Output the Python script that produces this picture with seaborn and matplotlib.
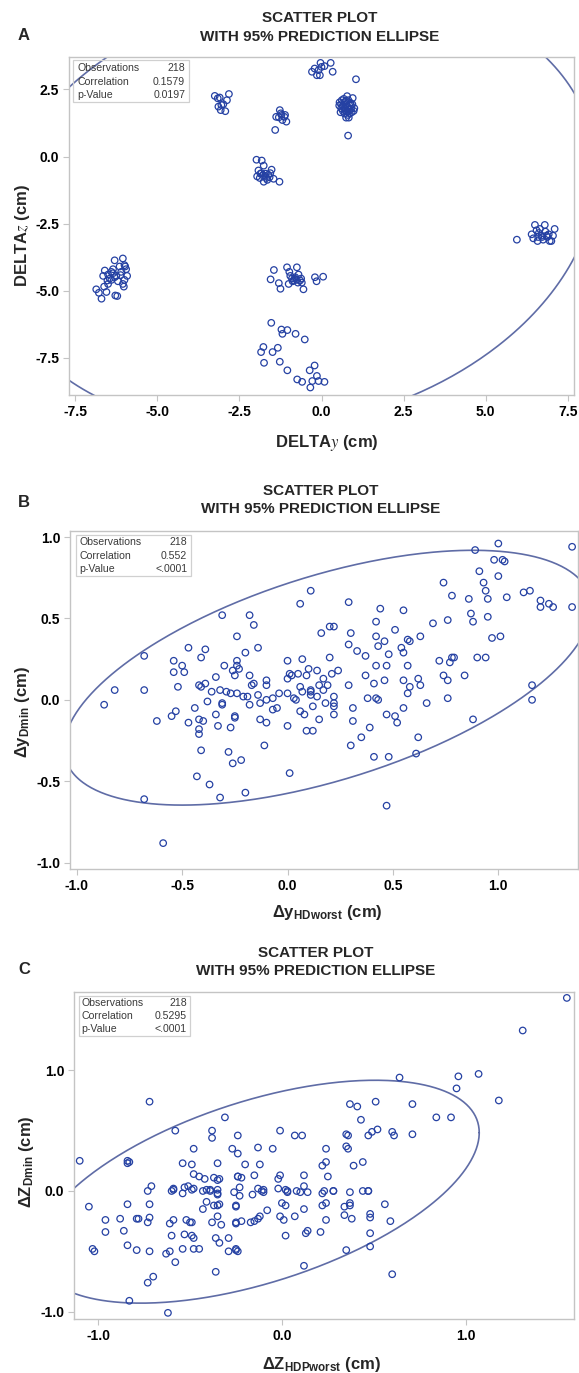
import numpy as np
import matplotlib.pyplot as plt
import matplotlib.patches as mpatches
import seaborn as sns

# Style
sns.set_theme(style="ticks")
plt.rcParams['font.family'] = ['Liberation Sans', 'DejaVu Sans']
plt.rcParams['mathtext.fontset'] = 'custom'
plt.rcParams['mathtext.rm'] = 'Liberation Sans'
plt.rcParams['mathtext.bf'] = 'Liberation Sans:bold'
plt.rcParams['mathtext.it'] = 'Liberation Sans:italic'

MARKER = '#2541a3'
ELLIPSE = '#5f6ca6'
SPINE = '#c4c4c4'

# ---------------- data ----------------
# Panel A: DELTA y vs DELTA z
a_x = [-0.29, -0.21, -0.09, 0.00, 0.09, -0.03, 0.28, 0.34, -0.14, -0.05, 1.05,
       -3.25, -3.16, -3.05, -3.07, -2.93, -2.82, -2.88, -3.14, -2.99, -3.10,
       -1.27, -1.22, -1.13, -1.07, -1.19, -1.38, -1.41, -1.30, -1.11, -1.24,
       0.55, 0.60, 0.62, 0.65, 0.68, 0.70, 0.72, 0.75, 0.78, 0.80, 0.82, 0.85,
       0.88, 0.90, 0.95, 1.00, 0.98, 0.92, 0.86, 0.80, 0.75, 0.70, 0.65, 0.58,
       0.60, 0.72, 0.78, 0.84, 0.90, 0.76, 0.66, 0.94, 0.83, 0.54, 0.81,
       -1.98, -1.82, -1.76, -1.92, -1.86, -1.78, -1.70, -1.52, -1.58, -1.46,
       -1.28, -1.96, -1.76, -1.65, -1.83, -1.72, -1.62, -1.88, -1.68, -1.56,
       -6.86, -6.78, -6.70, -6.62, -6.55, -6.50, -6.60, -6.50, -6.45, -6.40,
       -6.35, -6.30, -6.25, -6.20, -6.28, -6.22, -6.15, -6.10, -6.05, -6.00,
       -5.95, -5.92, -6.00, -6.05, -6.02, -6.40, -6.52, -6.35, -6.12, -5.98,
       -6.65, -6.30,
       -1.45, -1.55, -1.30, -1.25, -1.05, -0.98, -0.90, -0.85, -0.80, -0.75,
       -0.70, -0.65, -0.60, -0.55, -0.95, -0.88, -0.75, -0.82, -0.62, -0.20,
       -0.15, 0.05, -1.00, -0.72,
       -1.53, -1.22, -1.19, -1.04, -0.79, -0.51, -1.77, -1.84, -1.49, -1.33,
       -1.75, -1.27, -1.04, -0.36, -0.21, -0.74, -0.59, -0.34, -0.14, -0.09,
       0.09, -0.28,
       5.95, 6.40, 6.45, 6.50, 6.55, 6.58, 6.62, 6.65, 6.70, 6.75, 6.80, 6.82,
       6.88, 6.92, 6.95, 7.00, 7.05, 7.10, 6.72, 6.60, 6.85]
a_y = [3.16, 3.28, 3.22, 3.34, 3.37, 3.49, 3.49, 3.16, 3.03, 3.03, 2.88,
       2.26, 2.17, 1.92, 1.73, 1.69, 2.33, 2.10, 1.86, 1.95, 2.20,
       1.73, 1.55, 1.48, 1.30, 1.36, 1.48, 0.99, 1.46, 1.55, 1.61,
       2.02, 1.95, 2.10, 1.90, 2.15, 1.80, 2.05, 1.95, 2.25, 1.85, 2.10, 1.75,
       2.00, 1.90, 2.18, 1.80, 1.70, 1.65, 1.60, 1.55, 1.45, 1.60, 1.70, 1.65,
       1.80, 1.72, 1.68, 1.92, 1.78, 2.08, 1.86, 1.95, 1.45, 1.90, 0.78,
       -0.12, -0.15, -0.34, -0.52, -0.64, -0.70, -0.64, -0.49, -0.77, -0.83,
       -0.94, -0.74, -0.94, -0.87, -0.62, -0.72, -0.68, -0.80, -0.80, -0.62,
       -4.95, -5.08, -5.30, -4.85, -5.05, -4.75, -4.25, -4.40, -4.55, -4.30,
       -4.20, -3.87, -4.45, -4.65, -5.18, -5.20, -4.10, -4.30, -3.80, -4.05,
       -4.20, -4.45, -4.60, -4.75, -4.85, -4.60, -4.62, -4.35, -4.42, -4.10,
       -4.45, -4.50,
       -4.23, -4.58, -4.72, -4.93, -4.13, -4.30, -4.55, -4.62, -4.50, -4.13,
       -4.40, -4.62, -4.70, -4.95, -4.45, -4.65, -4.60, -4.55, -4.55, -4.50,
       -4.65, -4.48, -4.75, -4.70,
       -6.20, -6.45, -6.61, -6.47, -6.61, -6.82, -7.10, -7.29, -7.29, -7.13,
       -7.69, -7.65, -7.97, -7.97, -7.79, -8.31, -8.40, -8.61, -8.18, -8.37,
       -8.40, -8.37,
       -3.10, -2.90, -3.05, -2.55, -2.75, -3.15, -2.85, -2.70, -2.95, -3.10,
       -2.55, -2.80, -3.00, -2.90, -3.15, -3.15, -2.95, -2.70, -3.00, -3.00,
       -2.95]

# Panel B: dy HDworst vs dy Dmin
b_x = [-0.87, -0.82, -0.68, -0.68, -0.68, -0.62, -0.59, -0.55, -0.54, -0.54,
       -0.53, -0.52, -0.50, -0.49, -0.47, -0.47, -0.44, -0.43, -0.42, -0.42,
       -0.41, -0.42, -0.42, -0.41, -0.41, -0.40, -0.39, -0.39, -0.38, -0.37,
       -0.36, -0.34, -0.34, -0.33, -0.32, -0.32, -0.31, -0.31, -0.31, -0.30,
       -0.29, -0.28, -0.27, -0.27, -0.26, -0.26, -0.25, -0.25, -0.25, -0.24,
       -0.24, -0.24, -0.24, -0.23, -0.21, -0.22, -0.20, -0.20, -0.19, -0.18,
       -0.18, -0.18, -0.17, -0.16, -0.16, -0.14, -0.14, -0.13, -0.13, -0.11,
       -0.10, -0.10, -0.10, -0.10, -0.07, -0.07, -0.05, -0.04, 0.00, 0.00,
       0.00, 0.00, 0.01, 0.01, 0.02, 0.03, 0.04, 0.05, 0.06, 0.06,
       0.07, 0.07, 0.08, 0.09, 0.09, 0.10, 0.11, 0.11, 0.11, 0.12,
       0.12, 0.11, 0.06, 0.14, 0.14, 0.15, 0.15, 0.16, 0.17, 0.17,
       0.18, 0.19, 0.20, 0.20, 0.21, 0.22, 0.22, 0.22, 0.22, 0.22,
       0.24, 0.29, 0.29, 0.29, 0.30, 0.30, 0.31, 0.31, 0.33, 0.35,
       0.37, 0.37, 0.38, 0.39, 0.41, 0.41, 0.42, 0.42, 0.42, 0.42,
       0.43, 0.43, 0.44, 0.46, 0.46, 0.47, 0.47, 0.48, 0.48, 0.51,
       0.51, 0.52, 0.54, 0.55, 0.55, 0.55, 0.55, 0.57, 0.57, 0.57,
       0.58, 0.58, 0.61, 0.62, 0.62, 0.63, 0.63, 0.66, 0.47, 0.69,
       0.72, 0.74, 0.74, 0.76, 0.76, 0.76, 0.77, 0.78, 0.78, 0.79,
       0.84, 0.86, 0.87, 0.88, 0.88, 0.89, 0.90, 0.91, 0.93, 0.94,
       0.94, 0.95, 0.95, 0.97, 0.98, 1.00, 1.00, 1.01, 1.02, 1.03,
       1.04, 1.12, 1.15, 1.16, 1.16, 1.20, 1.20, 1.24, 1.26, 1.35, 1.35]
b_y = [-0.03, 0.06, 0.27, 0.06, -0.61, -0.13, -0.88, -0.10, 0.24, 0.17,
       -0.07, 0.08, 0.21, 0.17, 0.32, -0.14, -0.05, -0.47, -0.12, 0.09,
       0.08, -0.18, -0.21, 0.26, -0.31, -0.13, 0.31, 0.10, -0.01, -0.52,
       0.05, 0.14, -0.09, -0.16, -0.60, 0.06, -0.03, -0.02, 0.52, 0.21,
       0.05, -0.32, -0.17, 0.04, 0.18, -0.39, 0.15, -0.10, -0.11, 0.39,
       0.24, 0.21, 0.04, 0.19, 0.02, -0.37, -0.57, 0.29, 0.02, 0.52,
       -0.03, 0.15, 0.09, 0.10, 0.46, 0.32, 0.03, -0.02, -0.12, -0.28,
       0.12, 0.09, -0.14, 0.00, 0.01, -0.06, -0.05, 0.04, 0.24, 0.04,
       -0.16, 0.13, -0.45, 0.16, 0.15, 0.01, 0.00, 0.16, 0.08, -0.07,
       0.05, 0.25, -0.09, -0.19, 0.15, 0.19, 0.05, 0.06, 0.03, -0.19,
       -0.04, 0.67, 0.59, 0.18, 0.02, -0.12, 0.09, 0.41, 0.06, 0.13,
       -0.02, 0.09, 0.26, 0.45, 0.16, 0.45, 0.02, -0.02, -0.04, -0.09,
       0.18, 0.60, 0.34, 0.09, 0.41, -0.28, -0.05, -0.13, 0.30, -0.23,
       0.27, 0.15, 0.01, -0.17, 0.10, -0.35, 0.21, 0.39, 0.48, 0.01,
       0.33, 0.00, 0.56, 0.36, 0.12, 0.21, -0.09, 0.28, -0.35, 0.43,
       -0.10, -0.14, 0.32, 0.29, 0.55, 0.12, -0.05, 0.21, 0.04, 0.37,
       0.36, 0.08, -0.33, -0.23, 0.13, 0.39, 0.09, -0.02, -0.65, 0.47,
       0.24, 0.72, 0.15, 0.49, 0.12, 0.01, 0.23, 0.26, 0.64, 0.26,
       0.15, 0.62, 0.53, 0.48, -0.12, 0.92, 0.26, 0.79, 0.72, 0.67,
       0.26, 0.51, 0.62, 0.38, 0.86, 0.76, 0.96, 0.39, 0.86, 0.85,
       0.63, 0.66, 0.67, 0.09, 0.00, 0.61, 0.57, 0.59, 0.57, 0.94, 0.57]

# Panel C: dZ HDPworst vs dZ Dmin (last row: stacked duplicates)
c_x = [-1.10, -1.05, -1.03, -1.02, -0.96, -0.96, -0.88, -0.86, -0.84, -0.84,
       -0.84, -0.83, -0.84, -0.83, -0.79, -0.79, -0.78, -0.73, -0.73, -0.73,
       -0.72, -0.72, -0.72, -0.72, -0.71, -0.70, -0.63, -0.61, -0.61, -0.60,
       -0.60, -0.59, -0.59, -0.58, -0.58, -0.62, -0.54, -0.54, -0.54, -0.53,
       -0.53, -0.52, -0.51, -0.50, -0.49, -0.49, -0.49, -0.48, -0.48, -0.48,
       -0.48, -0.48, -0.45, -0.45, -0.43, -0.43, -0.42, -0.41, -0.41, -0.39,
       -0.38, -0.38, -0.38, -0.37, -0.37, -0.36, -0.36, -0.35, -0.35, -0.35,
       -0.35, -0.34, -0.34, -0.34, -0.33, -0.31, -0.29, -0.29, -0.27, -0.26,
       -0.25, -0.25, -0.25, -0.24, -0.24, -0.24, -0.24, -0.23, -0.23, -0.22,
       -0.22, -0.20, -0.17, -0.16, -0.15, -0.15, -0.13, -0.13, -0.12, -0.12,
       -0.11, -0.10, -0.08, -0.05, -0.02, -0.02, -0.01, -0.01, -0.01, 0.00,
       0.01, 0.02, 0.02, 0.03, 0.07, 0.07, 0.08, 0.10, 0.11, 0.12,
       0.12, 0.12, 0.13, 0.14, 0.14, 0.12, 0.21, 0.22, 0.23, 0.24,
       0.24, 0.24, 0.24, 0.25, 0.28, 0.34, 0.34, 0.35, 0.35, 0.35,
       0.36, 0.36, 0.37, 0.37, 0.37, 0.38, 0.39, 0.41, 0.43, 0.44,
       0.44, 0.47, 0.47, 0.48, 0.48, 0.48, 0.48, 0.49, 0.51, 0.52,
       0.56, 0.59, 0.60, 0.60, 0.61, 0.64, 0.71, 0.71, 0.84, 0.92,
       0.95, 0.96, 1.07, 1.18, 1.31, 1.55,
       -0.35, -0.35, -0.35, -0.59, -0.49, -0.24, -0.25, -0.25, 0.03, 0.02,
       0.22, 0.22, 0.28, 0.47, 0.37, -0.25, -0.10, -0.39, -0.13]
c_y = [0.25, -0.13, -0.48, -0.50, -0.24, -0.34, -0.23, -0.33, -0.11, 0.25,
       0.23, 0.24, -0.45, -0.91, -0.49, -0.23, -0.23, -0.76, -0.26, 0.00,
       0.74, -0.11, -0.22, -0.50, 0.04, -0.71, -0.52, -0.27, -0.50, 0.00,
       -0.37, 0.02, -0.24, 0.50, -0.59, -1.01, 0.23, -0.02, -0.48, 0.03,
       -0.36, -0.24, 0.04, -0.26, -0.37, 0.22, -0.26, 0.02, 0.35, 0.14,
       -0.39, -0.48, -0.48, 0.12, -0.15, 0.00, 0.10, -0.09, 0.01, 0.00,
       0.50, 0.44, -0.26, 0.11, -0.12, -0.39, -0.67, 0.01, -0.21, 0.23,
       -0.03, 0.10, -0.11, -0.43, -0.28, 0.61, -0.39, -0.50, 0.35, -0.01,
       -0.12, -0.48, -0.26, 0.31, 0.46, 0.12, -0.50, -0.04, 0.03, -0.25,
       0.11, 0.22, -0.26, -0.03, 0.13, -0.25, 0.36, 0.02, 0.22, -0.21,
       0.00, -0.01, -0.16, 0.35, 0.10, 0.02, 0.13, 0.50, -0.21, -0.10,
       -0.24, 0.01, -0.37, -0.01, -0.21, 0.46, 0.00, -0.01, 0.46, 0.13,
       -0.15, 0.04, -0.35, -0.33, -0.01, -0.62, -0.34, 0.21, 0.00, 0.24,
       0.35, -0.10, -0.24, 0.12, 0.00, -0.13, -0.20, -0.49, 0.47, 0.37,
       0.46, 0.35, 0.72, -0.10, -0.01, -0.23, 0.21, 0.70, 0.59, 0.00,
       0.24, 0.46, 0.00, -0.35, -0.46, -0.19, -0.22, 0.49, 0.74, 0.51,
       -0.11, -0.25, -0.69, 0.49, 0.46, 0.94, 0.72, 0.47, 0.61, 0.61,
       0.85, 0.95, 0.97, 0.75, 1.33, 1.60,
       0.09, -0.02, -0.12, 0.01, 0.01, 0.12, -0.13, -0.27, 0.00, -0.12,
       -0.02, -0.12, 0.00, 0.00, -0.12, -0.49, 0.01, 0.01, -0.23]

# many points overlap, so each ellipse is built from the summary statistics
# implied by the drawn ellipse (mean, SD) and the printed correlation
N_OBS = 218
a_mean, a_sd, a_corr = [-0.84, -1.91], [3.72, 3.34], 0.1579
b_mean, b_sd, b_corr = [0.19, 0.136], [0.505, 0.316], 0.552
c_mean, c_sd, c_corr = [-0.13, -0.006], [0.486, 0.373], 0.5295

STAT_NAMES = ['Observations', 'Correlation', 'p-Value']
a_stats = ['218', '0.1579', '0.0197']
b_stats = ['218', '0.552', '<.0001']
c_stats = ['218', '0.5295', '<.0001']

a_ticks = [-7.5, -5.0, -2.5, 0.0, 2.5, 5.0, 7.5]
a_yticks = [-7.5, -5.0, -2.5, 0.0, 2.5]
b_ticks = [-1.0, -0.5, 0.0, 0.5, 1.0]
b_yticks = [-1.0, -0.5, 0.0, 0.5, 1.0]
c_ticks = [-1.0, 0.0, 1.0]
c_yticks = [-1.0, 0.0, 1.0]


def prediction_ellipse(mean, sd, r, n, level=0.95, npts=500):
    # bivariate normal prediction ellipse for a new observation
    cov = np.array([[sd[0] ** 2, r * sd[0] * sd[1]],
                    [r * sd[0] * sd[1], sd[1] ** 2]])
    m = n - 2
    f = (m / 2) * ((1 - level) ** (-2 / m) - 1)
    c2 = 2 * (n + 1) * (n - 1) / (n * (n - 2)) * f
    L = np.linalg.cholesky(cov)
    t = np.linspace(0, 2 * np.pi, npts)
    pts = np.asarray(mean)[:, None] + np.sqrt(c2) * L @ np.vstack([np.cos(t), np.sin(t)])
    return pts[0], pts[1]


def stats_box(ax, values, rect, label_x, value_x):
    x0, y0, x1, y1 = rect
    ax.add_patch(mpatches.Rectangle((x0, y0), x1 - x0, y1 - y0, transform=ax.transAxes,
                                    fill=False, ec='#d0d0d0', lw=0.9, zorder=5))
    for yy, name, val in zip([0.967, 0.926, 0.888], STAT_NAMES, values):
        ax.text(label_x, yy, name, transform=ax.transAxes, fontsize=7.6,
                color='#3a3a3a', ha='left', va='center', zorder=6)
        ax.text(value_x, yy, val, transform=ax.transAxes, fontsize=7.6,
                color='#3a3a3a', ha='right', va='center', zorder=6)


def panel(fig, rect, x, y, ellipse, xlim, ylim, xticks, yticks, stats, box, lx, vx):
    ax = fig.add_axes(rect)
    sns.scatterplot(x=x, y=y, ax=ax, marker='o', s=22, facecolors='none',
                    edgecolor=MARKER, linewidth=0.9, zorder=3)
    ax.plot(ellipse[0], ellipse[1], color=ELLIPSE, lw=1.2, zorder=2)
    ax.set_xlim(xlim)
    ax.set_ylim(ylim)
    ax.set_xticks(xticks)
    ax.set_yticks(yticks)
    ax.set_xticklabels([f'{t:.1f}' for t in xticks], fontweight='bold', fontsize=10)
    ax.set_yticklabels([f'{t:.1f}' for t in yticks], fontweight='bold', fontsize=10)
    ax.tick_params(direction='out', length=4, width=0.8, color=SPINE, pad=3, labelcolor='black')
    for s in ax.spines.values():
        s.set_visible(True)
        s.set_color(SPINE)
        s.set_linewidth(1.0)
    stats_box(ax, stats, box, lx, vx)
    return ax


fig = plt.figure(figsize=(5.79, 13.73), dpi=100)
H = 1373.0
W = 579.0

# panel A
axA = panel(fig, [69 / W, 1 - 395 / H, 505 / W, 338 / H], a_x, a_y,
            prediction_ellipse(a_mean, a_sd, a_corr, N_OBS), (-7.69, 7.69), (-8.89, 3.71),
            a_ticks, a_yticks, a_stats, (0.008, 0.867, 0.238, 0.991), 0.016, 0.230)
axA.set_xlabel(r'DELTA$\mathit{y}$ (cm)', fontsize=12, fontweight='bold', math_fontfamily='stix')
axA.set_ylabel(r'DELTA$\mathit{z}$ (cm)', fontsize=12, fontweight='bold', math_fontfamily='stix')
axA.xaxis.set_label_coords(0.511, -0.142)
axA.yaxis.set_label_coords(-0.093, 0.473)

# panel B
axB = panel(fig, [70 / W, 1 - 869 / H, 508 / W, 338 / H], b_x, b_y,
            prediction_ellipse(b_mean, b_sd, b_corr, N_OBS), (-1.032, 1.378), (-1.039, 1.037),
            b_ticks, b_yticks, b_stats, (0.012, 0.867, 0.238, 0.988), 0.018, 0.231)
axB.set_xlabel(r'$\mathbf{\Delta y_{HDworst}}$ (cm)', fontsize=12, fontweight='bold')
axB.set_ylabel(r'$\mathbf{\Delta y_{Dmin}}$ (cm)', fontsize=12, fontweight='bold')
axB.xaxis.set_label_coords(0.506, -0.130)
axB.yaxis.set_label_coords(-0.094, 0.464)

# panel C
axC = panel(fig, [74 / W, 1 - 1319 / H, 500 / W, 327 / H], c_x, c_y,
            prediction_ellipse(c_mean, c_sd, c_corr, N_OBS), (-1.131, 1.589), (-1.061, 1.649),
            c_ticks, c_yticks, c_stats, (0.010, 0.865, 0.232, 0.988), 0.014, 0.226)
axC.set_xlabel(r'$\mathbf{\Delta Z_{HDPworst}}$ (cm)', fontsize=12, fontweight='bold')
axC.set_ylabel(r'$\mathbf{\Delta Z_{Dmin}}$ (cm)', fontsize=12, fontweight='bold')
axC.xaxis.set_label_coords(0.496, -0.138)
axC.yaxis.set_label_coords(-0.096, 0.48)

for ax in (axA, axB, axC):
    ax.xaxis.label.set_va('center')
    ax.yaxis.label.set_va('center')

# titles and panel letters
for letter, ly, tx, t1, t2 in [('A', 35, 320, 18, 37), ('B', 502, 321, 491, 509), ('C', 970, 316, 953, 971)]:
    fig.text(24 / W, 1 - ly / H, letter, fontsize=12, fontweight='bold', ha='center', va='center')
    fig.text(tx / W, 1 - t1 / H, 'SCATTER PLOT', fontsize=11, fontweight='bold', ha='center', va='center')
    fig.text(tx / W, 1 - t2 / H, 'WITH 95% PREDICTION ELLIPSE', fontsize=11, fontweight='bold',
             ha='center', va='center')

fig.savefig('out.png', dpi=100)
